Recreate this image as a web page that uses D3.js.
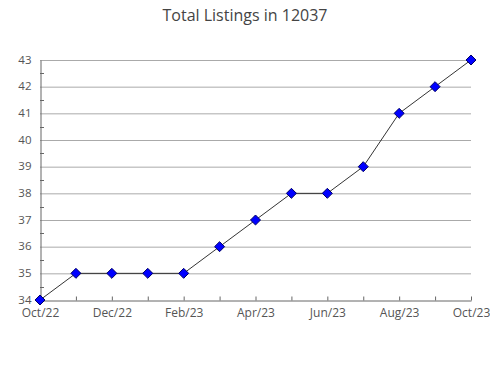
<!DOCTYPE html>
<html><head><meta charset="utf-8">
<script src="https://cdn.jsdelivr.net/npm/d3@7"></script>
<style>body{margin:0;background:#fff}svg{display:block}</style>
</head><body>
<script>
const months = ["Oct/22","Nov/22","Dec/22","Jan/23","Feb/23","Mar/23","Apr/23","May/23","Jun/23","Jul/23","Aug/23","Sep/23","Oct/23"];
const listings = [34,35,35,35,35,36,37,38,38,39,41,42,43];
const yTicks = [34,35,36,37,38,39,40,41,42,43];
const title = "Total Listings in 12037";

const W = 490, H = 380;
const m = {left:40, right:19, top:60, bottom:80};
const svg = d3.select("body").append("svg").attr("width",W).attr("height",H);
const font = "'Open Sans', 'Segoe UI', sans-serif";

const x = d3.scalePoint().domain(months).range([m.left, W-m.right]);
const y = d3.scaleLinear().domain([34,43]).range([H-m.bottom, m.top]);

svg.append("text").attr("x",W/2).attr("y",21).attr("text-anchor","middle")
  .attr("font-family",font).attr("font-size",16).attr("fill","#444").text(title);

// gridlines
svg.append("g").selectAll("line").data(yTicks.slice(1)).join("line")
  .attr("x1",m.left).attr("x2",W-m.right).attr("y1",d=>y(d)+0.5).attr("y2",d=>y(d)+0.5)
  .attr("stroke","#aaa").attr("stroke-width",1);

// y axis
const yAxis = d3.axisLeft(y).tickValues(yTicks).tickSize(0).tickPadding(9).tickFormat(d3.format("d"));
const gy = svg.append("g").attr("transform",`translate(${m.left+0.5},0)`).call(yAxis);
gy.select(".domain").attr("stroke","#666");
gy.selectAll("text").attr("font-family",font).attr("font-size",11.5).attr("fill","#555").attr("dy","0.28em");
// minor ticks
svg.append("g").selectAll("line").data(yTicks.slice(0,-1).map(d=>d+0.5)).join("line")
  .attr("x1",m.left).attr("x2",m.left+4).attr("y1",d=>Math.round(y(d))+0.5).attr("y2",d=>Math.round(y(d))+0.5)
  .attr("stroke","#666");

// x axis
const xAxis = d3.axisBottom(x).tickSizeInner(-4).tickSizeOuter(0).tickPadding(6)
  .tickFormat((d,i)=> i%2===0 ? d : "");
const gx = svg.append("g").attr("transform",`translate(0,${H-m.bottom+0.5})`).call(xAxis);
gx.select(".domain").attr("stroke","#666");
gx.selectAll(".tick line").attr("stroke","#666");
gx.selectAll("text").attr("font-family",font).attr("font-size",12).attr("fill","#555").attr("dy","0.85em");

// line
const line = d3.line().x((d,i)=>x(months[i])).y(d=>y(d));
svg.append("path").datum(listings).attr("d",line).attr("fill","none").attr("stroke","#000").attr("stroke-width",0.8);

// markers
svg.append("g").selectAll("path").data(listings).join("path")
  .attr("d",d3.symbol().type(d3.symbolDiamond2).size(64))
  .attr("transform",(d,i)=>`translate(${x(months[i])},${y(d)})`)
  .attr("fill","#0000ff").attr("stroke","#000066").attr("stroke-width",1);
</script>
</body></html>
